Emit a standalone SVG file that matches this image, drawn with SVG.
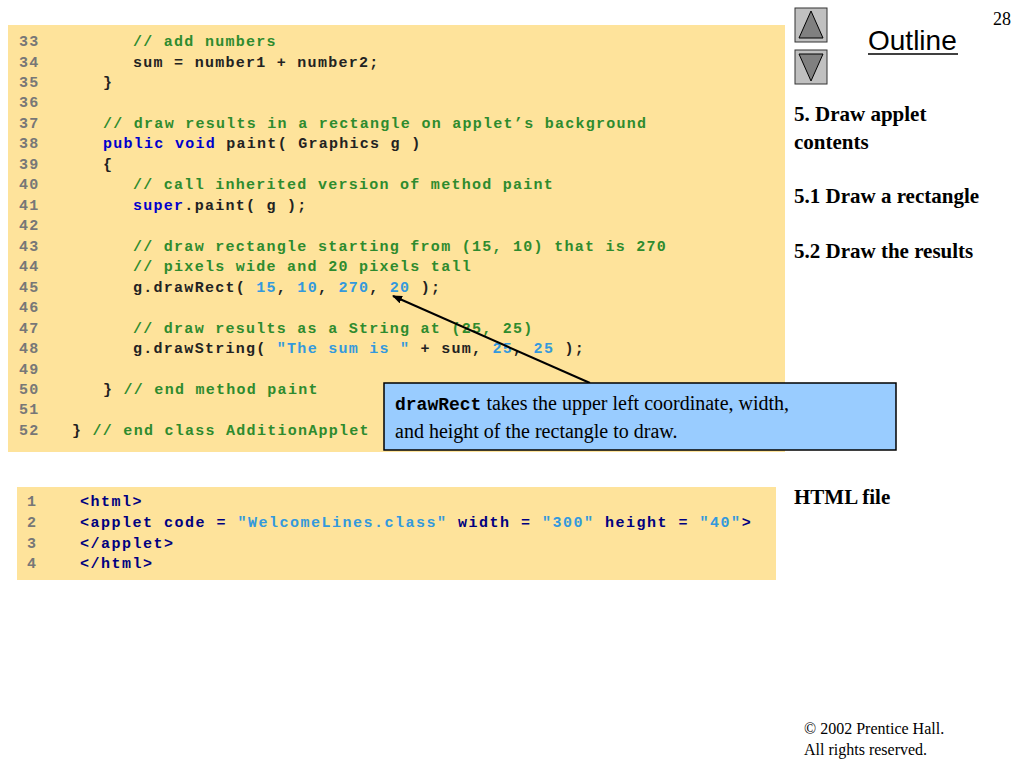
<svg xmlns="http://www.w3.org/2000/svg" width="1024" height="768" viewBox="0 0 1024 768">
<style>
.c{font-family:"Liberation Mono",monospace;font-weight:bold;font-size:15px;letter-spacing:1.27px;fill:#222}
.h{font-family:"Liberation Mono",monospace;font-weight:bold;font-size:15px;letter-spacing:1.5px;fill:#000080}
.n{fill:#777}
.g{fill:#2e8b2e}
.k{fill:#0000cc}
.s{fill:#3399dd}
.t{font-family:"Liberation Serif",serif;font-weight:bold;font-size:21px;fill:#000}
</style>
<defs>
<marker id="ah" markerWidth="10" markerHeight="8" refX="9" refY="4" orient="auto" markerUnits="userSpaceOnUse">
<path d="M0,0 L10,4 L0,8 z" fill="#000"/>
</marker>
</defs>
<rect width="1024" height="768" fill="#fff"/>
<g id="code">
<rect x="8" y="25" width="777" height="427" fill="#fee39b"/>
<g class="c">
<text x="19" y="46" class="n">33</text><text x="133" y="46" class="g">// add numbers</text>
<text x="19" y="66.5" class="n">34</text><text x="133" y="66.5">sum = number1 + number2;</text>
<text x="19" y="87" class="n">35</text><text x="103" y="87">}</text>
<text x="19" y="107.4" class="n">36</text>
<text x="19" y="127.9" class="n">37</text><text x="103" y="127.9" class="g">// draw results in a rectangle on applet’s background</text>
<text x="19" y="148.4" class="n">38</text><text x="103" y="148.4"><tspan class="k">public void</tspan> paint( Graphics g )</text>
<text x="19" y="168.8" class="n">39</text><text x="103" y="168.8">{</text>
<text x="19" y="189.3" class="n">40</text><text x="133" y="189.3" class="g">// call inherited version of method paint</text>
<text x="19" y="209.8" class="n">41</text><text x="133" y="209.8"><tspan class="k">super</tspan>.paint( g );</text>
<text x="19" y="230.2" class="n">42</text>
<text x="19" y="250.7" class="n">43</text><text x="133" y="250.7" class="g">// draw rectangle starting from (15, 10) that is 270</text>
<text x="19" y="271.2" class="n">44</text><text x="133" y="271.2" class="g">// pixels wide and 20 pixels tall</text>
<text x="19" y="291.6" class="n">45</text><text x="133" y="291.6">g.drawRect( <tspan class="s">15</tspan>, <tspan class="s">10</tspan>, <tspan class="s">270</tspan>, <tspan class="s">20</tspan> );</text>
<text x="19" y="312.1" class="n">46</text>
<text x="19" y="332.6" class="n">47</text><text x="133" y="332.6" class="g">// draw results as a String at (25, 25)</text>
<text x="19" y="353" class="n">48</text><text x="133" y="353">g.drawString( <tspan class="s">"The sum is "</tspan> + sum, <tspan class="s">25</tspan>, <tspan class="s">25</tspan> );</text>
<text x="19" y="373.5" class="n">49</text>
<text x="19" y="394" class="n">50</text><text x="103" y="394">}  <tspan class="g">// end method paint</tspan></text>
<text x="19" y="414.4" class="n">51</text>
<text x="19" y="434.9" class="n">52</text><text x="72" y="434.9">}  <tspan class="g">// end class AdditionApplet</tspan></text>
</g>
</g>
<g id="html">
<rect x="17" y="487" width="759" height="93" fill="#fee39b"/>
<g class="h">
<text x="27" y="506" class="n">1</text><text x="80" y="506">&lt;html&gt;</text>
<text x="27" y="527" class="n">2</text><text x="80" y="527">&lt;applet code = <tspan class="s">"WelcomeLines.class"</tspan> width = <tspan class="s">"300"</tspan> height = <tspan class="s">"40"</tspan>&gt;</text>
<text x="27" y="548" class="n">3</text><text x="80" y="548">&lt;/applet&gt;</text>
<text x="27" y="568" class="n">4</text><text x="80" y="568">&lt;/html&gt;</text>
</g>
</g>
<g id="connectors">
<line x1="590" y1="383" x2="393" y2="296" stroke="#000" stroke-width="2" marker-end="url(#ah)"/>
</g>
<g id="callout">
<rect x="384" y="383" width="512" height="67" fill="#99ccff" stroke="#000" stroke-width="1.5"/>
<text x="395" y="410" font-family="Liberation Serif,serif" font-size="20"><tspan font-family="Liberation Mono,monospace" font-weight="bold" font-size="18">drawRect</tspan> takes the upper left coordinate, width,</text>
<text x="395" y="438" font-family="Liberation Serif,serif" font-size="20">and height of the rectangle to draw.</text>
</g>
<g id="nav">
<rect x="795" y="8" width="32" height="34" fill="#c0c0c0" stroke="#333"/>
<path d="M799,38 L811,11 L823,38 z" fill="#808080" stroke="#000"/>
<rect x="795" y="50" width="32" height="34" fill="#c0c0c0" stroke="#333"/>
<path d="M799,54 L811,81 L823,54 z" fill="#808080" stroke="#000"/>
<text x="868" y="50" font-family="Liberation Sans,sans-serif" font-size="28" fill="#000">Outline</text>
<line x1="868" y1="54" x2="958" y2="54" stroke="#000" stroke-width="1.5"/>
<text x="993" y="25" font-family="Liberation Serif,serif" font-size="18">28</text>
</g>
<g id="outline">
<text x="794" y="121" class="t">5. Draw applet</text>
<text x="794" y="149" class="t">contents</text>
<text x="794" y="203" class="t">5.1 Draw a rectangle</text>
<text x="794" y="258" class="t">5.2 Draw the results</text>
<text x="794" y="504" class="t">HTML file</text>
</g>
<g id="footer" font-family="Liberation Serif,serif" font-size="16">
<text x="804" y="734">© 2002 Prentice Hall.</text>
<text x="804" y="755">All rights reserved.</text>
</g>
</svg>
